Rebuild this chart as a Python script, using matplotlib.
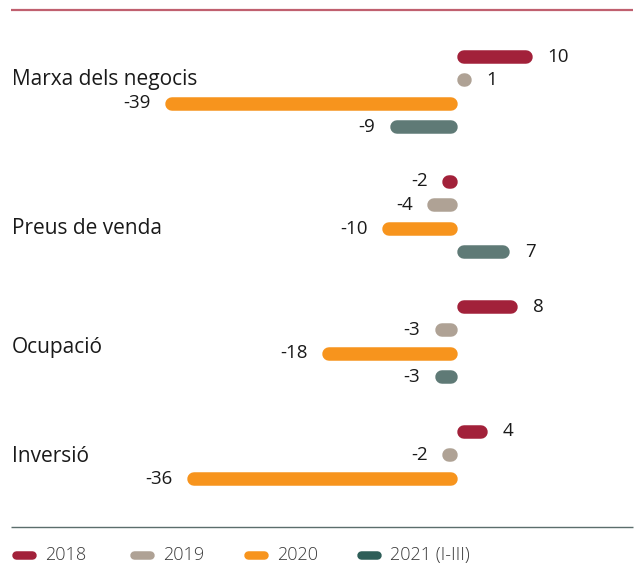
import matplotlib
matplotlib.use("Agg")
import matplotlib.pyplot as plt

plt.rcParams['font.family'] = ['Open Sans', 'DejaVu Sans']

# Data
categories = ["Marxa dels negocis", "Preus de venda", "Ocupació", "Inversió"]
series = ["2018", "2019", "2020", "2021 (I-III)"]
values = [
    [10, 1, -39, -9],
    [-2, -4, -10, 7],
    [8, -3, -18, -3],
    [4, -2, -36, None],
]

bar_colors = ["#A2213A", "#AFA295", "#F7941D", "#5F7A76"]
legend_colors = ["#A2213A", "#AFA295", "#F7941D", "#2E5E58"]

W, H = 634, 565
DPI = 100
fig = plt.figure(figsize=(W / DPI, H / DPI), dpi=DPI)
ax = fig.add_axes([0, 0, 1, 1])

# pixel-like layout: 7.5 px per unit, zero at x=457.7
px_per_unit = 7.5
x0_px = 457.7
ax.set_xlim(-x0_px / px_per_unit, (W - x0_px) / px_per_unit)
ax.set_ylim(H, 0)
ax.axis("off")
xmin = ax.get_xlim()[0]


def px(x):
    return xmin + x / px_per_unit


bar_h_px = 13.5
lw_pt = bar_h_px * 72 / DPI
r = bar_h_px / 2 / px_per_unit  # cap radius in data units

group_top = 56.5
group_step = 125
bar_step = 23.5
label_y = [80, 229, 348, 456]

for g, (cat, vals) in enumerate(zip(categories, values)):
    ax.text(px(12), label_y[g], cat, fontsize=15, color="#1a1a1a",
            ha="left", va="center")
    for i, v in enumerate(vals):
        if v is None:
            continue
        y = group_top + g * group_step + i * bar_step
        s = 1 if v >= 0 else -1
        a = s * r
        b = s * max(abs(v) - r, r + 0.01)
        ax.plot([a, b], [y, y], color=bar_colors[i], lw=lw_pt,
                solid_capstyle="round")
        end = s * max(abs(v), 2 * r)
        off = 15 / px_per_unit
        ax.text(end + s * off, y, f"{v}", fontsize=13.5, color="#1a1a1a",
                ha="left" if s > 0 else "right", va="center")

# top and bottom rules
ax.plot([px(11), px(633)], [10, 10], color="#C0606F", lw=1.6,
        solid_capstyle="butt")
ax.plot([px(11), px(633)], [527, 527], color="#5B6E6C", lw=1.0,
        solid_capstyle="butt")

# legend
leg_x = [12, 130, 244, 357]
for i, name in enumerate(series):
    ax.plot([px(leg_x[i] + 4), px(leg_x[i] + 20)], [555, 555],
            color=legend_colors[i], lw=8.5 * 72 / DPI, solid_capstyle="round")
    ax.text(px(leg_x[i] + 33), 555, name, fontsize=13, color="#3a3a3a",
            ha="left", va="center", fontweight="light")

fig.savefig("out.png", dpi=DPI)
